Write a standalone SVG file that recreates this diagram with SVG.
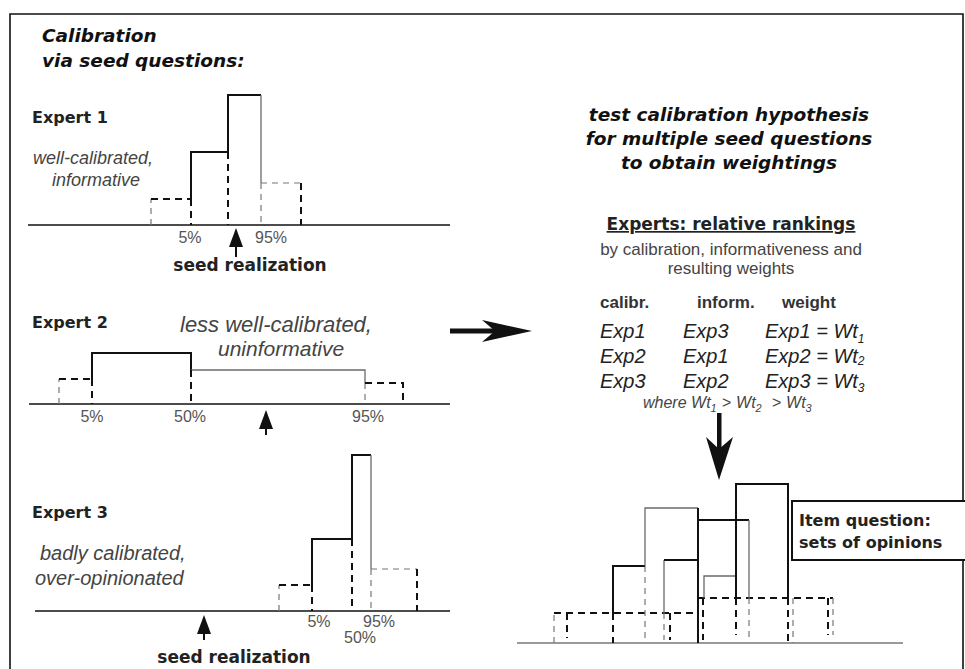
<svg xmlns="http://www.w3.org/2000/svg" width="965" height="669" viewBox="0 0 965 669">
  <style>
    .axis { stroke: #111; stroke-width: 1.6; fill: none; }
    .bk { fill: none; stroke: #111; stroke-width: 2; }
    .gy { fill: none; stroke: #6a6a6a; stroke-width: 1.3; }
    .dk { fill: none; stroke: #111; stroke-width: 2; stroke-dasharray: 7 5; }
    .lt { fill: none; stroke: #777; stroke-width: 1.2; stroke-dasharray: 6 5; }
    .head { font-family: "DejaVu Sans", sans-serif; font-weight: bold; font-style: oblique; fill: #111; }
    .exp { font-family: "DejaVu Sans", sans-serif; font-weight: bold; font-size: 16px; fill: #222; }
    .desc { font-family: "Liberation Sans", Arial, sans-serif; font-style: italic; fill: #444; }
    .pct { font-family: "Liberation Sans", Arial, sans-serif; font-size: 16px; fill: #555; text-anchor: middle; }
    .seed { font-family: "DejaVu Sans", sans-serif; font-weight: bold; font-size: 17px; fill: #222; text-anchor: middle; }
    .body { font-family: "Liberation Sans", Arial, sans-serif; fill: #444; text-anchor: middle; font-size: 17px; }
    .colh { font-family: "Liberation Sans", Arial, sans-serif; font-weight: bold; font-size: 17px; fill: #333; }
    .row { font-family: "Liberation Sans", Arial, sans-serif; font-style: italic; font-size: 20px; fill: #222; }
    .sub { font-size: 12px; }
    .mark { fill: #111; }
  </style>

  <!-- outer frame (open at the bottom) -->
  <path d="M10,680 V14 H963 V680" fill="none" stroke="#111" stroke-width="1.6"/>

  <!-- title -->
  <g id="title">
    <text class="head" x="42" y="42" font-size="18.5">Calibration</text>
    <text class="head" x="42" y="67" font-size="18.5">via seed questions:</text>
  </g>

  <!-- Expert 1: well calibrated, informative -->
  <g id="expert1">
    <text class="exp" x="32" y="123">Expert 1</text>
    <text class="desc" x="33" y="164" font-size="18">well-calibrated,</text>
    <text class="desc" x="52" y="186" font-size="18">informative</text>
    <line class="axis" x1="28" y1="225" x2="450" y2="225"/>
    <path class="lt" d="M151,225 V199"/>
    <path class="dk" d="M151,199 H191"/>
    <path class="bk" d="M191,199 V152 H228 V95 H261"/>
    <path class="gy" d="M261,95 V183"/>
    <path class="dk" d="M191,199 V225 M228,152 V225"/>
    <path class="lt" d="M261,183 V225 M261,183 H301"/>
    <path class="dk" d="M301,183 V225"/>
    <text class="pct" x="190" y="243">5%</text>
    <text class="pct" x="271" y="243">95%</text>
    <path class="mark" d="M236,228 L243,247 L229,247 Z"/>
    <line x1="236" y1="246" x2="236" y2="257" stroke="#111" stroke-width="2"/>
    <text class="seed" x="250" y="271">seed realization</text>
  </g>

  <!-- Expert 2: less well calibrated, uninformative -->
  <g id="expert2">
    <text class="exp" x="32" y="328">Expert 2</text>
    <text class="desc" x="180" y="332" font-size="22">less well-calibrated,</text>
    <text class="desc" x="218" y="356" font-size="21">uninformative</text>
    <line class="axis" x1="29" y1="404" x2="450" y2="404"/>
    <path class="lt" d="M59,404 V379"/>
    <path class="dk" d="M59,379 H92"/>
    <path class="bk" d="M92,379 V353 H191 V370"/>
    <path class="gy" d="M191,370 H365 V383"/>
    <path class="dk" d="M92,379 V404 M191,370 V404"/>
    <path class="lt" d="M365,383 V404"/>
    <path class="dk" d="M365,383 H403 V404"/>
    <text class="pct" x="92" y="422">5%</text>
    <text class="pct" x="190" y="422">50%</text>
    <text class="pct" x="368" y="422">95%</text>
    <path class="mark" d="M266,410 L273,429 L259,429 Z"/>
    <line x1="266" y1="428" x2="266" y2="435" stroke="#111" stroke-width="2"/>
  </g>

  <!-- Expert 3: badly calibrated, over-opinionated -->
  <g id="expert3">
    <text class="exp" x="32" y="518">Expert 3</text>
    <text class="desc" x="40" y="560" font-size="20">badly calibrated,</text>
    <text class="desc" x="35" y="585" font-size="20">over-opinionated</text>
    <line class="axis" x1="35" y1="611" x2="450" y2="611"/>
    <path class="lt" d="M279,611 V585"/>
    <path class="dk" d="M279,585 H312"/>
    <path class="bk" d="M312,585 V539 H352 V455 H371"/>
    <path class="gy" d="M371,455 V569"/>
    <path class="dk" d="M312,585 V611 M352,539 V611"/>
    <path class="lt" d="M371,569 V611 M371,569 H417"/>
    <path class="dk" d="M417,569 V611"/>
    <text class="pct" x="319" y="627">5%</text>
    <text class="pct" x="379" y="627">95%</text>
    <text class="pct" x="360" y="643">50%</text>
    <path class="mark" d="M204,615 L211,634 L197,634 Z"/>
    <line x1="204" y1="633" x2="204" y2="640" stroke="#111" stroke-width="2"/>
    <text class="seed" x="234" y="663">seed realization</text>
  </g>

  <!-- weighting summary -->
  <g id="weighting">
    <text class="head" x="729" y="121" font-size="18.5" text-anchor="middle">test calibration hypothesis</text>
    <text class="head" x="729" y="145" font-size="18.5" text-anchor="middle">for multiple seed questions</text>
    <text class="head" x="729" y="169" font-size="18.5" text-anchor="middle">to obtain weightings</text>

    <text x="731" y="230" text-anchor="middle" font-family="DejaVu Sans, sans-serif" font-weight="bold" font-size="17" fill="#222" text-decoration="underline">Experts: relative rankings</text>
    <text class="body" x="731" y="255">by calibration, informativeness and</text>
    <text class="body" x="731" y="274">resulting weights</text>

    <text class="colh" x="600" y="308">calibr.</text>
    <text class="colh" x="697" y="308">inform.</text>
    <text class="colh" x="782" y="308">weight</text>

    <text class="row" x="600" y="338">Exp1</text>
    <text class="row" x="683" y="338">Exp3</text>
    <text class="row" x="765" y="338">Exp1 = Wt<tspan class="sub" dy="5">1</tspan></text>
    <text class="row" x="600" y="363">Exp2</text>
    <text class="row" x="683" y="363">Exp1</text>
    <text class="row" x="765" y="363">Exp2 = Wt<tspan class="sub" dy="2">2</tspan></text>
    <text class="row" x="600" y="388">Exp3</text>
    <text class="row" x="683" y="388">Exp2</text>
    <text class="row" x="765" y="388">Exp3 = Wt<tspan class="sub" dy="4">3</tspan></text>

    <text class="desc" x="643" y="408" font-size="16" fill="#333">where Wt<tspan font-size="11" dy="4">1</tspan><tspan dx="5" dy="-4">&gt;</tspan><tspan dx="5">Wt</tspan><tspan font-size="11" dy="4">2</tspan><tspan dx="10" dy="-4">&gt;</tspan><tspan dx="5">Wt</tspan><tspan font-size="11" dy="4">3</tspan></text>
  </g>

  <!-- item question: pooled opinions -->
  <g id="item-question">
    <line x1="517" y1="643" x2="903" y2="643" stroke="#777" stroke-width="1.5"/>
    <!-- dashed tails -->
    <path class="lt" d="M554,643 V613"/>
    <path class="dk" d="M554,613 H698"/>
    <path class="dk" d="M567,613 V638 M613,613 V643"/>
    <path class="dk" d="M698,598 H833"/>
    <path class="lt" d="M645,566 V643 M664,613 V640"/>
    <path class="dk" d="M670,613 V640 M703,598 V640 M736,598 V635 M788,598 V643 M828,598 V635"/>
    <path class="lt" d="M749,598 V640 M793,598 V643 M833,598 V635"/>
    <!-- solid bins -->
    <path class="bk" d="M613,613 V566 H645"/>
    <path class="gy" d="M645,566 V508 H698"/>
    <path class="bk" d="M698,508 V643"/>
    <path class="bk" d="M698,520 H749"/>
    <path class="gy" d="M749,520 V598"/>
    <path class="gy" d="M664,613 V560"/>
    <path class="bk" d="M664,560 H698"/>
    <path class="gy" d="M704,598 V576 H736"/>
    <path class="bk" d="M736,598 V484 H788 V598"/>
    <rect x="792" y="501" width="180" height="59" fill="#fff" stroke="#111" stroke-width="2"/>
    <text class="exp" x="799" y="526" fill="#222">Item question:</text>
    <text class="exp" x="799" y="548" fill="#222">sets of opinions</text>
  </g>

  <!-- connectors -->
  <g id="connectors">
    <rect x="450" y="328.5" width="46" height="5" fill="#111"/>
    <path d="M532,331 L482,320 L495,331 L482,342 Z" fill="#111"/>
    <rect x="717" y="413" width="4.5" height="40" fill="#111"/>
    <path d="M719,480 L706,437 L719,449 L733,437 Z" fill="#111"/>
  </g>
</svg>
